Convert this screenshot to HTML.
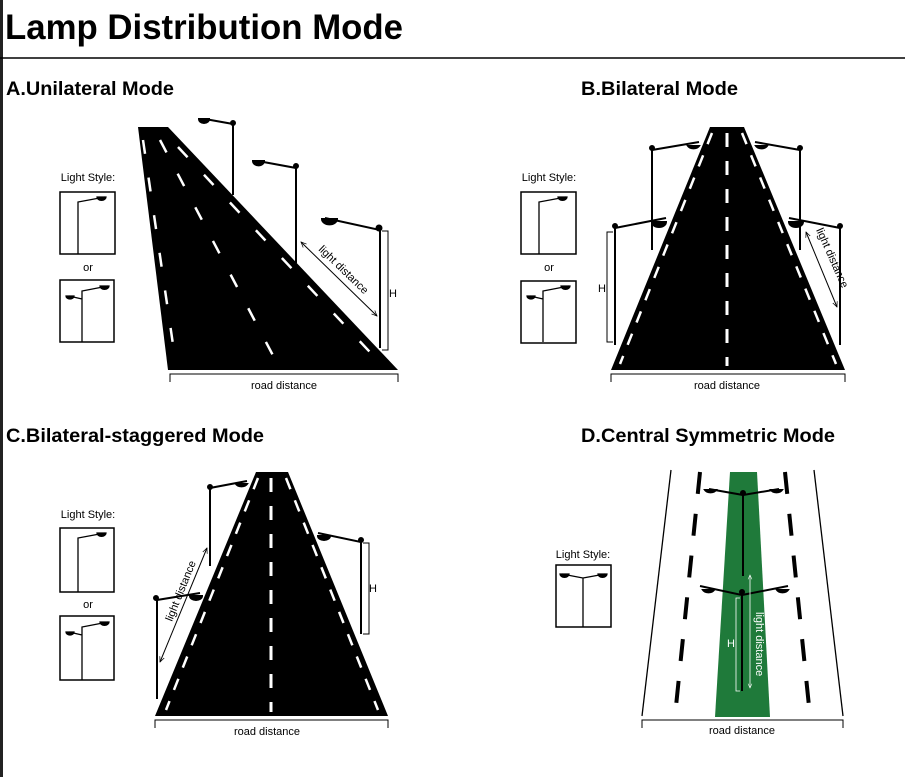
<!DOCTYPE html>
<html><head><meta charset="utf-8"><style>
html,body{margin:0;padding:0;background:#fff;width:905px;height:777px;overflow:hidden}
svg{display:block}
text{font-family:"Liberation Sans",Arial,sans-serif}
</style></head><body>
<svg width="905" height="777" viewBox="0 0 905 777" xmlns="http://www.w3.org/2000/svg">
<defs>
<marker id="ar" viewBox="0 0 10 10" refX="9" refY="5" markerWidth="6" markerHeight="6" orient="auto-start-reverse"><path d="M0,1 L9,5 L0,9" fill="none" stroke="#000" stroke-width="1.2"/></marker>
<marker id="aw" viewBox="0 0 10 10" refX="9" refY="5" markerWidth="6" markerHeight="6" orient="auto-start-reverse"><path d="M0,1 L9,5 L0,9" fill="none" stroke="#fff" stroke-width="1.2"/></marker>
</defs>
<rect x="0" y="0" width="3" height="777" fill="#222"/>
<text x="5" y="39" font-size="35" font-weight="bold" textLength="398" lengthAdjust="spacingAndGlyphs">Lamp Distribution Mode</text>
<line x1="0" y1="58" x2="905" y2="58" stroke="#000" stroke-width="1.5"/>
<g font-size="19" font-weight="bold">
<text x="6" y="95" textLength="168" lengthAdjust="spacingAndGlyphs">A.Unilateral Mode</text>
<text x="581" y="95" textLength="157" lengthAdjust="spacingAndGlyphs">B.Bilateral Mode</text>
<text x="6" y="442" textLength="258" lengthAdjust="spacingAndGlyphs">C.Bilateral-staggered Mode</text>
<text x="581" y="442" textLength="254" lengthAdjust="spacingAndGlyphs">D.Central Symmetric Mode</text>
</g>

<g font-size="11" text-anchor="middle">
<text x="88" y="181">Light Style:</text><text x="88" y="271">or</text>
<text x="549" y="181">Light Style:</text><text x="549" y="271">or</text>
<text x="88" y="518">Light Style:</text><text x="88" y="608">or</text>
<text x="583" y="558">Light Style:</text>
</g>
<g fill="none" stroke="#000" stroke-width="1.5">
<rect x="60" y="192" width="55" height="62"/><rect x="60" y="280" width="54" height="62"/>
<rect x="521" y="192" width="55" height="62"/><rect x="521" y="281" width="55" height="62"/>
<rect x="60" y="528" width="54" height="64"/><rect x="60" y="616" width="54" height="64"/>
<rect x="556" y="565" width="55" height="62"/>
</g>
<g stroke="#000" stroke-width="1.3" fill="#000">
<path d="M78,254 V202 L105,197" fill="none"/><path d="M97,197 h9 a4,3 0 0 1 -9,0z"/>
<path d="M539,254 V202 L566,197" fill="none"/><path d="M558,197 h9 a4,3 0 0 1 -9,0z"/>
<path d="M78,592 V538 L105,533" fill="none"/><path d="M97,533 h9 a4,3 0 0 1 -9,0z"/>
<path d="M82,342 V291 L108,286 M82,299 L69,296" fill="none"/><path d="M100,286 h9 a4,3 0 0 1 -9,0z M66,296 h8 a4,3 0 0 1 -8,0z"/>
<path d="M543,342 V291 L569,286 M543,299 L530,296" fill="none"/><path d="M561,286 h9 a4,3 0 0 1 -9,0z M527,296 h8 a4,3 0 0 1 -8,0z"/>
<path d="M82,680 V627 L108,622 M82,635 L69,632" fill="none"/><path d="M100,622 h9 a4,3 0 0 1 -9,0z M66,632 h8 a4,3 0 0 1 -8,0z"/>
<path d="M583,627 V578 L562,574 M583,578 L605,574" fill="none"/><path d="M560,574 h9 a4,3 0 0 1 -9,0z M598,574 h9 a4,3 0 0 1 -9,0z"/>
</g>

<!-- A road -->
<polygon points="138,127 168,127 398,370 168,370" fill="#000"/>
<g stroke="#fff" stroke-width="2.5" stroke-dasharray="14,24">
<line x1="143" y1="140" x2="176" y2="365"/>
<line x1="160" y1="140" x2="278" y2="365"/>
<line x1="178" y1="147" x2="382" y2="365"/>
</g>
<g stroke="#000" stroke-width="2" fill="#000">
<path d="M233,195 V124 L205,119" fill="none"/><path d="M199,119 h10 a5,4 0 0 1 -10,0z"/><circle cx="233" cy="123" r="2"/>
<path d="M296,263 V168 L258,161" fill="none"/><path d="M253,161 h11 a5,4 0 0 1 -11,0z"/><circle cx="296" cy="166" r="2"/>
<path d="M380,348 V230 L325,218" fill="none"/><path d="M322,219 h15 a7,5 0 0 1 -15,0z"/><circle cx="379" cy="228" r="2.5"/>
</g>
<g stroke="#000" stroke-width="1" fill="none">
<path d="M382,231 h6 V350 h-6"/>
<line x1="301" y1="242" x2="377" y2="316" marker-start="url(#ar)" marker-end="url(#ar)"/>
<path d="M170,382 V374 H398 V382"/>
</g>
<text x="389" y="297" font-size="11">H</text>
<text font-size="11" transform="translate(318,250) rotate(44)">light distance</text>
<text x="284" y="389" font-size="11" text-anchor="middle">road distance</text>

<!-- B road -->
<polygon points="710,127 744,127 845,370 611,370" fill="#000"/>
<g stroke="#fff" stroke-width="3" stroke-dasharray="14,14">
<line x1="727" y1="133" x2="727" y2="366"/>
</g>
<g stroke="#fff" stroke-width="2.5" stroke-dasharray="12,12">
<line x1="712" y1="133" x2="620" y2="364"/>
<line x1="742" y1="133" x2="836" y2="364"/>
</g>
<g stroke="#000" stroke-width="2" fill="#000">
<path d="M652,250 V150 L699,142" fill="none"/><path d="M688,146 h11 a6,4 0 0 1 -11,0z"/><circle cx="652" cy="148" r="2"/>
<path d="M615,345 V228 L666,218" fill="none"/><path d="M652,222 h14 a7,5 0 0 1 -14,0z"/><circle cx="615" cy="226" r="2"/>
<path d="M800,250 V150 L755,142" fill="none"/><path d="M756,146 h11 a6,4 0 0 1 -11,0z"/><circle cx="800" cy="148" r="2"/>
<path d="M840,345 V228 L789,218" fill="none"/><path d="M789,222 h14 a7,5 0 0 1 -14,0z"/><circle cx="840" cy="226" r="2"/>
</g>
<g stroke="#000" stroke-width="1" fill="none">
<path d="M613,232 h-6 V342 h6"/>
<line x1="806" y1="232" x2="837" y2="307" marker-start="url(#ar)" marker-end="url(#ar)"/>
<path d="M611,382 V374 H845 V382"/>
</g>
<text x="598" y="292" font-size="11">H</text>
<text font-size="11" transform="translate(816,230) rotate(66)">light distance</text>
<text x="727" y="389" font-size="11" text-anchor="middle">road distance</text>

<!-- C road -->
<polygon points="256,472 288,472 388,716 155,716" fill="#000"/>
<g stroke="#fff" stroke-width="3" stroke-dasharray="14,14">
<line x1="271" y1="478" x2="271" y2="712"/>
</g>
<g stroke="#fff" stroke-width="2.5" stroke-dasharray="12,12">
<line x1="258" y1="478" x2="166" y2="710"/>
<line x1="286" y1="478" x2="378" y2="710"/>
</g>
<g stroke="#000" stroke-width="2" fill="#000">
<path d="M210,566 V488 L247,481" fill="none"/><path d="M236,484 h11 a6,4 0 0 1 -11,0z"/><circle cx="210" cy="487" r="2"/>
<path d="M157,699 V600 L200,593" fill="none"/><path d="M190,596 h12 a6,4 0 0 1 -12,0z"/><circle cx="156" cy="598" r="2"/>
<path d="M361,634 V542 L318,533" fill="none"/><path d="M318,536 h12 a6,4 0 0 1 -12,0z"/><circle cx="361" cy="540" r="2"/>
</g>
<g stroke="#000" stroke-width="1" fill="none">
<path d="M363,543 h6 V634 h-6"/>
<line x1="207" y1="548" x2="160" y2="662" marker-start="url(#ar)" marker-end="url(#ar)"/>
<path d="M155,728 V720 H388 V728"/>
</g>
<text x="369" y="592" font-size="11">H</text>
<text font-size="11" transform="translate(172,622) rotate(-68)">light distance</text>
<text x="267" y="735" font-size="11" text-anchor="middle">road distance</text>

<!-- D road -->
<line x1="671" y1="470" x2="642" y2="716" stroke="#000" stroke-width="1.3"/>
<line x1="814" y1="470" x2="843" y2="716" stroke="#000" stroke-width="1.3"/>
<polygon points="730,472 757,472 770,717 715,717" fill="#1f7a3a"/>
<g stroke="#000" stroke-width="4" stroke-dasharray="22,20">
<line x1="700" y1="472" x2="675" y2="716"/>
<line x1="785" y1="472" x2="810" y2="716"/>
</g>
<g stroke="#000" stroke-width="2" fill="#000">
<path d="M743,576 V495 L709,489 M743,495 L779,489" fill="none"/><path d="M705,490 h11 a6,4 0 0 1 -11,0z M771,490 h11 a6,4 0 0 1 -11,0z"/><circle cx="743" cy="493" r="2"/>
<path d="M742,691 V595 L700,586 M742,595 L788,586" fill="none"/><path d="M703,590 h11 a6,4 0 0 1 -11,0z M777,590 h11 a6,4 0 0 1 -11,0z"/><circle cx="742" cy="592" r="2"/>
</g>
<g stroke="#fff" stroke-width="0.8" fill="none">
<path d="M740,598 h-4 V691 h4"/>
<line x1="750" y1="575" x2="750" y2="688" marker-start="url(#aw)" marker-end="url(#aw)"/>
</g>
<text x="727" y="647" font-size="11" fill="#fff">H</text>
<text font-size="11" fill="#fff" transform="translate(756,612) rotate(90)">light distance</text>
<path d="M642,728 V720 H843 V728" stroke="#000" stroke-width="1" fill="none"/>
<text x="742" y="734" font-size="11" text-anchor="middle">road distance</text>
</svg>
</body></html>
